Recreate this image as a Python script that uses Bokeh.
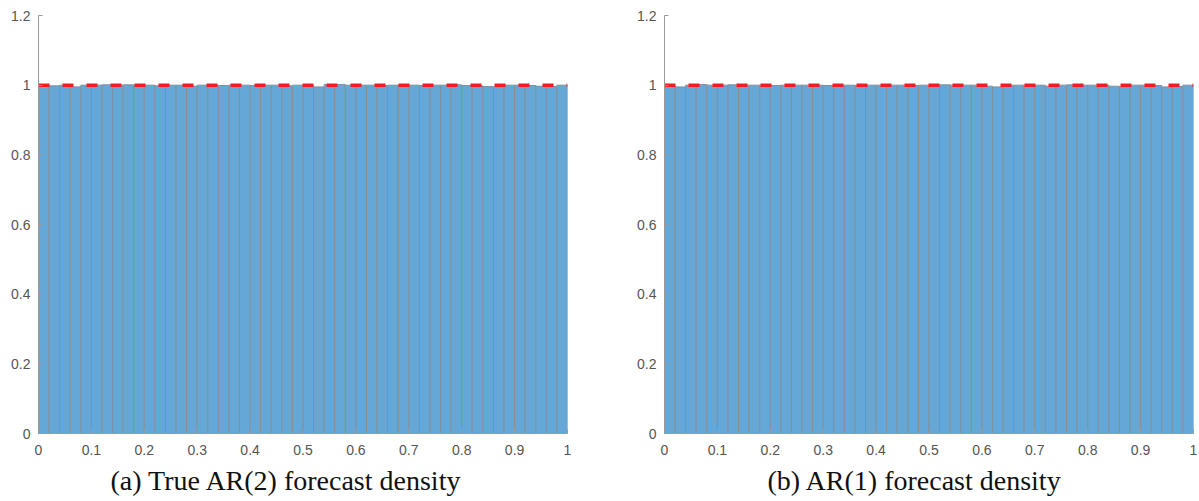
from bokeh.plotting import figure
from bokeh.layouts import row
from bokeh.models import FixedTicker, Range1d, Title
from bokeh.embed import file_html
from bokeh.resources import INLINE

# ---- data -------------------------------------------------------------
bin_edges = [i / 50 for i in range(51)]
heights_a = [1.000, 0.998, 1.000, 0.995, 1.000, 1.000, 1.001, 1.000, 1.001, 1.000,
             1.000, 0.998, 1.000, 1.000, 0.997, 1.000, 1.000, 0.999, 1.000, 1.000,
             0.999, 1.000, 1.000, 0.998, 1.000, 0.999, 0.995, 1.002, 1.002, 1.000,
             1.000, 1.000, 0.999, 1.000, 1.000, 1.000, 0.999, 1.000, 1.000, 1.001,
             0.999, 0.998, 0.996, 0.995, 1.000, 1.000, 0.999, 0.997, 0.996, 1.000]
heights_b = [1.000, 0.995, 1.000, 1.002, 1.000, 1.000, 1.001, 1.000, 1.000, 1.000,
             0.999, 1.000, 1.000, 1.000, 1.000, 0.999, 1.000, 1.000, 0.999, 1.000,
             1.000, 1.000, 1.000, 0.999, 1.000, 1.000, 1.001, 1.000, 1.000, 1.000,
             0.997, 0.995, 1.000, 1.000, 1.000, 1.000, 0.997, 1.000, 1.001, 1.000,
             1.000, 1.000, 0.997, 0.995, 1.000, 1.000, 0.999, 0.995, 0.996, 1.000]
ref_x = [0.0, 1.0]
ref_y = [1.0, 1.0]
x_ticks = [0, 0.1, 0.2, 0.3, 0.4, 0.5, 0.6, 0.7, 0.8, 0.9, 1]
x_tick_labels = ["0", "0.1", "0.2", "0.3", "0.4", "0.5", "0.6", "0.7", "0.8", "0.9", "1"]
y_ticks = [0, 0.2, 0.4, 0.6, 0.8, 1, 1.2]
y_tick_labels = ["0", "0.2", "0.4", "0.6", "0.8", "1", "1.2"]
captions = ["(a) True AR(2) forecast density", "(b) AR(1) forecast density"]

FRAME_W = 529
FRAME_H = 418
TICK_FONT = "Liberation Sans"
TICK_COLOR = "#555555"
AXIS_COLOR = "#9a9a9a"


def make_panel(heights, caption, border_left, border_right, caption_offset):
    p = figure(frame_width=FRAME_W, frame_height=FRAME_H,
               x_range=Range1d(0, 1), y_range=Range1d(0, 1.2),
               output_backend="svg", toolbar_location=None,
               min_border_left=border_left, min_border_right=border_right,
               min_border_top=15, min_border_bottom=66)
    p.outline_line_color = None
    p.xgrid.visible = False
    p.ygrid.visible = False
    p.background_fill_color = "white"
    p.border_fill_color = "white"

    p.quad(left=bin_edges[:-1], right=bin_edges[1:], bottom=0, top=heights,
           fill_color="#65a7d6", line_color="#83909c", line_width=1)
    p.line(ref_x, ref_y, line_color="#f01e23", line_width=3.5, line_dash="11 13")

    p.xaxis.ticker = FixedTicker(ticks=x_ticks)
    p.xaxis.major_label_overrides = {t: l for t, l in zip(x_ticks, x_tick_labels)}
    p.yaxis.ticker = FixedTicker(ticks=y_ticks)
    p.yaxis.major_label_overrides = {t: l for t, l in zip(y_ticks, y_tick_labels)}
    for ax in (p.xaxis[0], p.yaxis[0]):
        ax.major_label_text_font = TICK_FONT
        ax.major_label_text_font_size = "14px"
        ax.major_label_text_color = TICK_COLOR
        ax.axis_line_color = AXIS_COLOR
        ax.major_tick_line_color = AXIS_COLOR
        ax.major_tick_in = 4
        ax.major_tick_out = 0
        ax.minor_tick_line_color = None
    p.xaxis.major_label_standoff = 11
    p.yaxis.major_label_standoff = 8

    p.add_layout(Title(text=caption, align="left", offset=caption_offset,
                       text_font="Liberation Serif", text_font_size="28px",
                       text_font_style="normal", text_color="#111111",
                       standoff=11), "below")
    return p


p1 = make_panel(heights_a, captions[0], 38, 60, 72)
p2 = make_panel(heights_b, captions[1], 37, 5, 103)
layout = row(p1, p2, spacing=0)

open("out.html", "w").write(file_html(layout, INLINE))
